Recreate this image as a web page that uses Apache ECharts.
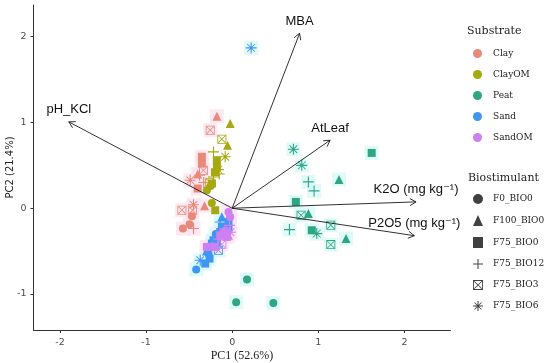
<!DOCTYPE html>
<html>
<head>
<meta charset="utf-8">
<script src="https://cdn.jsdelivr.net/npm/echarts@6/dist/echarts.min.js"></script>
<style>html,body{margin:0;padding:0;background:#fff;}#c{width:550px;height:363px;}</style>
</head>
<body>
<div id="c"></div>
<script>
// ---- data ----
const substrates = ['Clay', 'ClayOM', 'Peat', 'Sand', 'SandOM'];
const biostimulants = ['F0_BIO0', 'F100_BIO0', 'F75_BIO0', 'F75_BIO12', 'F75_BIO3', 'F75_BIO6'];
// [PC1, PC2, biostimulant index]
const clayPts = [
  [-0.468, -0.093, 0], [-0.495, -0.187, 0], [-0.572, -0.237, 0],
  [-0.178, 1.073, 1], [-0.321, 0.030, 1], [-0.40, 0.40, 1],
  [-0.352, 0.600, 2], [-0.352, 0.520, 2], [-0.400, 0.230, 2],
  [-0.449, -0.237, 3], [-0.380, 0.385, 3], [-0.330, 0.300, 3],
  [-0.255, 0.910, 4], [-0.584, -0.023, 4], [-0.333, 0.443, 4], [-0.460, -0.023, 4],
  [-0.487, 0.327, 5], [-0.449, 0.040, 5]
];
const clayOMPts = [
  [-0.236, 0.060, 0], [-0.294, 0.210, 0], [-0.250, 0.260, 0],
  [-0.023, 0.988, 1], [-0.054, 0.735, 1],
  [-0.178, 0.560, 2], [-0.178, 0.480, 2], [-0.235, 0.288, 2], [-0.197, -0.023, 2], [-0.200, 0.420, 2],
  [-0.217, 0.657, 3], [-0.217, 0.365, 3], [-0.150, 0.400, 3],
  [-0.120, 0.805, 4], [-0.260, 0.300, 4],
  [-0.081, 0.600, 5], [-0.160, 0.450, 5]
];
const peatPts = [
  [0.172, -0.832, 0], [0.046, -1.097, 0], [0.478, -1.105, 0],
  [1.240, 0.335, 1], [0.885, -0.062, 1], [1.322, -0.354, 1],
  [1.620, 0.645, 2], [0.739, 0.074, 2], [0.924, -0.257, 2],
  [0.885, 0.307, 3], [0.951, 0.202, 3], [0.665, -0.249, 3],
  [0.800, -0.082, 4], [1.145, -0.198, 4], [1.145, -0.424, 4],
  [0.711, 0.688, 5], [0.808, 0.500, 5], [0.982, -0.296, 5]
];
const sandPts = [
  [-0.418, -0.715, 0], [-0.275, -0.529, 0], [-0.190, -0.300, 0],
  [-0.120, -0.100, 1], [-0.300, -0.500, 1], [-0.220, -0.380, 1],
  [-0.043, -0.160, 2], [-0.043, -0.237, 2], [-0.120, -0.218, 2], [-0.139, -0.276, 2],
  [-0.217, -0.373, 2], [-0.236, -0.412, 2], [-0.178, -0.412, 2], [-0.263, -0.587, 2], [-0.313, -0.645, 2],
  [-0.139, -0.160, 3], [-0.060, -0.120, 3],
  [-0.159, -0.490, 4],
  [-0.371, -0.607, 5], [0.220, 1.870, 5]
];
const sandOMPts = [
  [-0.043, -0.043, 0], [-0.023, -0.101, 0], [-0.080, -0.260, 0],
  [-0.043, -0.315, 1], [-0.230, -0.440, 1],
  [-0.062, -0.335, 2], [-0.139, -0.315, 2], [-0.294, -0.451, 2], [-0.200, -0.450, 2], [-0.100, -0.280, 2],
  [-0.030, -0.200, 3], [-0.160, -0.360, 3],
  [-0.120, -0.420, 4],
  [-0.020, -0.280, 5]
];
const arrowNames = ['MBA', 'pH_KCl', 'AtLeaf', 'K2O (mg kg\u207B\u00B9)', 'P2O5 (mg kg\u207B\u00B9)'];
const arrowX = [0.783, -1.897, 1.137, 2.135, 2.115];
const arrowY = [2.040, 1.007, 0.793, 0.074, -0.320];
const xTicks = [-2, -1, 0, 1, 2];
const yTicks = [-1, 0, 1, 2];

// ---- styles ----
const colors = ['#E8897A', '#A6A812', '#2FA683', '#3F97F3', '#CE80F2'];
const haloColors = ['#fde4ee', null, '#d8f9f9', '#d8f9f9', '#fce3f3'];
const P_PLUS = 'path://M0,45H100V55H0Z M45,0H55V100H45Z';
const P_BOXX = 'path://M0,0H100V100H0Z M9,9V91H91V9Z M9,15L15,9L91,85L85,91Z M85,9L91,15L15,91L9,85Z';
const P_AST = 'path://M0,45H100V55H0Z M45,0H55V100H45Z M12,18L18,12L88,82L82,88Z M82,12L88,18L18,88L12,82Z';
const symbols = ['circle', 'triangle', 'rect', P_PLUS, P_BOXX, P_AST];
const sizes = [8, 9, 8, 11, 9, 11];

const allPts = [clayPts, clayOMPts, peatPts, sandPts, sandOMPts];
const series = [];
allPts.forEach((pts, i) => {
  if (haloColors[i]) {
    series.push({
      type: 'scatter', name: 'halo' + i, silent: true, z: 1,
      symbol: 'rect', symbolSize: 14,
      itemStyle: { color: haloColors[i] },
      data: pts.map(p => [p[0], p[1]])
    });
  }
});
allPts.forEach((pts, i) => {
  series.push({
    type: 'scatter', name: substrates[i], z: 3,
    itemStyle: { color: colors[i], opacity: 1 },
    data: pts.map(p => ({ value: [p[0], p[1]], symbol: symbols[p[2]], symbolSize: sizes[p[2]] }))
  });
});
biostimulants.forEach((b, k) => {
  series.push({ type: 'scatter', name: b, symbol: symbols[k], itemStyle: { color: '#111' }, data: [] });
});
series.push({
  type: 'custom', z: 10, silent: true, clip: false,
  data: arrowX.map((x, i) => [x, arrowY[i]]),
  encode: { x: 0, y: 1 },
  renderItem: function (params, api) {
    const o = api.coord([0, 0]);
    const e = api.coord([api.value(0), api.value(1)]);
    const ang = Math.atan2(e[1] - o[1], e[0] - o[0]);
    const L = 7, a = Math.PI / 6;
    const h1 = [e[0] - L * Math.cos(ang - a), e[1] - L * Math.sin(ang - a)];
    const h2 = [e[0] - L * Math.cos(ang + a), e[1] - L * Math.sin(ang + a)];
    return {
      type: 'group',
      children: [
        { type: 'line', shape: { x1: o[0], y1: o[1], x2: e[0], y2: e[1] }, style: { stroke: '#1a1a1a', lineWidth: 0.9 } },
        { type: 'polyline', shape: { points: [h1, e, h2] }, style: { stroke: '#1a1a1a', fill: null, lineWidth: 0.9 } },
        { type: 'text', x: e[0], y: e[1] - 12, style: { text: arrowNames[params.dataIndex], align: 'center', verticalAlign: 'middle', fontSize: 13, fontFamily: '"Liberation Sans", "DejaVu Sans", Arial', fill: '#111' } }
      ]
    };
  }
});

const legendText = { fontFamily: '"DejaVu Serif", serif', fontSize: 9, color: '#222', padding: [0, 0, 0, 6] };
const option = {
  animation: false,
  backgroundColor: '#fff',
  title: [
    { text: 'Substrate', left: 462, top: 21, textStyle: { fontFamily: '"DejaVu Serif", serif', fontSize: 11, fontWeight: 'normal', color: '#222' } },
    { text: 'Biostimulant', left: 463, top: 168, textStyle: { fontFamily: '"DejaVu Serif", serif', fontSize: 11, fontWeight: 'normal', color: '#222' } }
  ],
  legend: [
    {
      orient: 'vertical', left: 468, top: 44, itemWidth: 9, itemHeight: 11, itemGap: 12,
      data: substrates.map(s => ({ name: s, icon: 'circle' })),
      textStyle: legendText, selectedMode: false
    },
    {
      orient: 'vertical', left: 468, top: 189, itemWidth: 10, itemHeight: 11, itemGap: 11,
      data: biostimulants.map((b, k) => ({ name: b, icon: symbols[k] })),
      textStyle: { fontFamily: '"DejaVu Serif", serif', fontSize: 9, color: '#222', padding: [0, 0, 0, 5] }, selectedMode: false
    }
  ],
  grid: { left: 33.5, right: 99.5, top: 5, bottom: 33, containLabel: false, outerBoundsMode: 'none' },
  xAxis: {
    type: 'value', min: -2.307, max: 2.535,
    name: 'PC1 (52.6%)', nameLocation: 'middle', nameGap: 20, nameMoveOverlap: false,
    nameTextStyle: { fontFamily: '"Liberation Serif", serif', fontSize: 12, color: '#222' },
    axisLine: { onZero: false, lineStyle: { color: '#333', width: 1 } },
    axisTick: { show: true, length: 3, customValues: xTicks, lineStyle: { color: '#333' } },
    axisLabel: { customValues: xTicks, margin: 8, fontFamily: '"DejaVu Sans", sans-serif', fontSize: 9.5, color: '#4d4d4d' },
    splitLine: { show: false }
  },
  yAxis: {
    type: 'value', min: -1.42, max: 2.37,
    name: 'PC2 (21.4%)', nameLocation: 'middle', nameGap: 18, nameMoveOverlap: false,
    nameTextStyle: { fontFamily: '"DejaVu Sans", sans-serif', fontSize: 10, color: '#222' },
    axisLine: { show: true, onZero: false, lineStyle: { color: '#333', width: 1 } },
    axisTick: { show: true, length: 3, customValues: yTicks, lineStyle: { color: '#333' } },
    axisLabel: { customValues: yTicks, margin: 7, fontFamily: '"DejaVu Sans", sans-serif', fontSize: 9.5, color: '#4d4d4d' },
    splitLine: { show: false }
  },
  series: series
};
const chart = echarts.init(document.getElementById('c'), null, { renderer: 'canvas' });
chart.setOption(option);
</script>
</body>
</html>
